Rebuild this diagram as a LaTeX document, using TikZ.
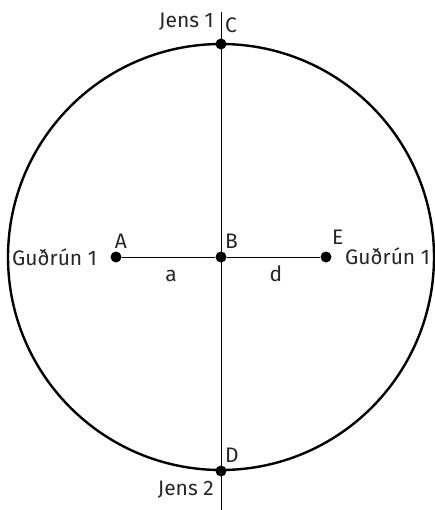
\documentclass[tikz,border=0pt]{standalone}
\usepackage{fontspec}
\setmainfont{Fira Sans}
\begin{document}
\begin{tikzpicture}[x=1pt,y=-1pt,
  dot/.style={circle,fill=black,inner sep=0pt,minimum size=11pt},
  lbl/.style={inner sep=0pt,text=black!85,font=\fontsize{21}{23}\selectfont}]
\useasboundingbox (0,0) rectangle (434,510);
\coordinate (B) at (221,257);
\draw[line width=2.4pt] (B) circle (213);
\coordinate (top) at (221,12);
\coordinate (bot) at (221,510);
\draw[line width=1pt] (top) -- (bot);
\node[dot] (A) at (116,257) {};
\node[dot] (Bd) at (B) {};
\node[dot] (E) at (326,257) {};
\node[dot] (C) at (221,44) {};
\node[dot] (D) at (221,471) {};
\draw[line width=1pt] (A) -- (Bd) -- (E);
\node[lbl,anchor=west] (Cl) at (225,25) {C};
\node[lbl,anchor=east] (J1) at (214,22) {Jens 1};
\node[lbl] (Al) at (121,241) {A};
\node[lbl,anchor=west] (Bl) at (225,241) {B};
\node[lbl,anchor=west] (El) at (332,237) {E};
\node[lbl,anchor=west] (G2) at (345,256) {Guðrún 1};
\node[lbl,anchor=west] (G1) at (12,257) {Guðrún 1};
\node[lbl] (al) at (171,276) {a};
\node[lbl] (dl) at (276,274) {d};
\node[lbl,anchor=west] (Dl) at (225,455) {D};
\node[lbl,anchor=east] (J2) at (214,490) {Jens 2};
\end{tikzpicture}
\end{document}
